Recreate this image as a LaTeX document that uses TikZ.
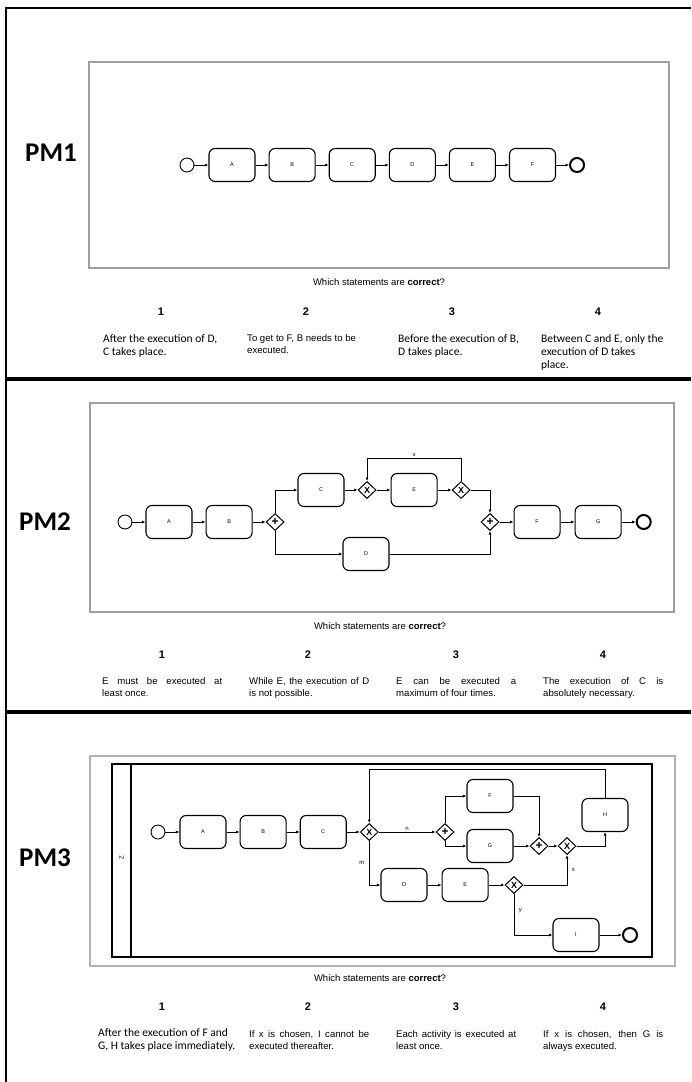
\documentclass[tikz,border=0pt]{standalone}
\usepackage{fontspec}
\setmainfont{Liberation Sans}
\newfontfamily\calibri{Carlito}
\usetikzlibrary{arrows.meta, positioning, shapes.geometric}

\begin{document}
\begin{tikzpicture}[x=1pt, y=-1pt,
  task/.style={draw, rounded corners=6pt, minimum width=46pt, minimum height=33pt, inner sep=1pt, line width=1.1pt, font=\fontsize{5.5}{6}\selectfont},
  startev/.style={draw, circle, minimum size=14pt, inner sep=0pt, line width=0.9pt},
  endev/.style={draw, circle, minimum size=14pt, inner sep=0pt, line width=2pt},
  xorgw/.style={draw, diamond, minimum width=18pt, minimum height=17pt, inner sep=0pt, line width=1pt, font=\fontsize{9}{9}\selectfont\bfseries},
  andgw/.style={xorgw, font=\fontsize{12}{12}\selectfont\bfseries},
  flow/.style={-{Latex[length=3.5pt, width=3pt]}, line width=0.8pt},
  lbl/.style={font=\fontsize{6}{6}\selectfont, inner sep=1.5pt},
  modelbox/.style={draw=gray!75, line width=1.4pt},
  pmlabel/.style={font=\calibri\bfseries\fontsize{27}{27}\selectfont},
  question/.style={font=\fontsize{9.5}{11}\selectfont},
  qnum/.style={font=\bfseries\fontsize{11}{11}\selectfont},
  stmtc/.style={anchor=north west, inner sep=0pt, align=left, font=\calibri\fontsize{11.5}{13}\selectfont},
  stmta/.style={anchor=north west, inner sep=0pt, align=left, font=\fontsize{9.6}{12}\selectfont},
  stmtj/.style={anchor=north west, inner sep=0pt, text width=120pt, align=justify, font=\fontsize{9.6}{12}\selectfont}
]
  \useasboundingbox (0,0) rectangle (691,1082);
  \draw[line width=2pt] (6,1082) -- (6,8) -- (691,8);
  \draw[line width=4pt] (6,379) -- (691,379);
  \draw[line width=4pt] (6,712) -- (691,712);

  % PM1
  \draw[modelbox] (89,62) rectangle (669,268);
  \node[pmlabel] (pm1) at (51,153) {PM1};
  \node[startev] (s1) at (187,165) {};
  \node[task, right=14pt of s1] (A1) {A};
  \node[task, right=13pt of A1] (B1) {B};
  \node[task, right=13pt of B1] (C1) {C};
  \node[task, right=13pt of C1] (D1) {D};
  \node[task, right=13pt of D1] (E1) {E};
  \node[task, right=13pt of E1] (F1) {F};
  \node[endev, right=13pt of F1] (e1) {};
  \draw[flow] (s1) -- (A1);
  \draw[flow] (A1) -- (B1);
  \draw[flow] (B1) -- (C1);
  \draw[flow] (C1) -- (D1);
  \draw[flow] (D1) -- (E1);
  \draw[flow] (E1) -- (F1);
  \draw[flow] (F1) -- (e1);

  \node[question] (q1) at (379,282) {Which statements are \textbf{correct}?};
  \node[qnum] (n11) at (161,312) {1};
  \node[qnum] (n12) at (306,312) {2};
  \node[qnum] (n13) at (452,312) {3};
  \node[qnum] (n14) at (598,312) {4};
  \node[stmtc] (t11) at (103,334) {After the execution of D,\\C takes place.};
  \node[stmta] (t12) at (247,334) {To get to F, B needs to be\\executed.};
  \node[stmtc] (t13) at (398,334) {Before the execution of B,\\D takes place.};
  \node[stmtc] (t14) at (541,334) {Between C and E, only the\\execution of D takes\\place.};

  % PM2
  \draw[modelbox] (90,403) rectangle (674,612);
  \node[pmlabel] (pm2) at (45,522) {PM2};
  \node[startev] (s2) at (125,522) {};
  \node[task, right=13pt of s2] (A2) {A};
  \node[task, right=13pt of A2] (B2) {B};
  \node[andgw, right=13pt of B2] (and2a) {+};
  \node[task] (C2) at (321,490) {C};
  \node[xorgw, right=13pt of C2] (xor2a) {X};
  \node[task, right=14pt of xor2a] (E2) {E};
  \node[xorgw, right=14pt of E2] (xor2b) {X};
  \node[task] (D2) at (366,554) {D};
  \node[andgw] (and2b) at (490,522) {+};
  \node[task, right=14pt of and2b] (F2) {F};
  \node[task, right=14pt of F2] (G2) {G};
  \node[endev, right=14pt of G2] (e2) {};
  \draw[flow] (s2) -- (A2);
  \draw[flow] (A2) -- (B2);
  \draw[flow] (B2) -- (and2a);
  \draw[flow] (and2a.north) |- (C2);
  \draw[flow] (and2a.south) |- (D2);
  \draw[flow] (C2) -- (xor2a);
  \draw[flow] (xor2a) -- (E2);
  \draw[flow] (E2) -- (xor2b);
  \draw[flow] (xor2b.north) -- ++(0,-23) -| (xor2a.north) node[lbl, pos=0.25, above] {x};
  \draw[flow] (xor2b.east) -| (and2b.north);
  \draw[flow] (D2.east) -| (and2b.south);
  \draw[flow] (and2b) -- (F2);
  \draw[flow] (F2) -- (G2);
  \draw[flow] (G2) -- (e2);

  \node[question] (q2) at (380,626) {Which statements are \textbf{correct}?};
  \node[qnum] (n21) at (162,655) {1};
  \node[qnum] (n22) at (308,655) {2};
  \node[qnum] (n23) at (456,655) {3};
  \node[qnum] (n24) at (603,655) {4};
  \node[stmtj] (t21) at (102,677) {E must be executed at\linebreak least once.};
  \node[stmtj] (t22) at (249,677) {While E, the execution of D\linebreak is not possible.};
  \node[stmtj] (t23) at (396,677) {E can be executed a\linebreak maximum of four times.};
  \node[stmtj] (t24) at (543,677) {The execution of C is\linebreak absolutely necessary.};

  % PM3
  \draw[draw=gray!60, line width=1.2pt] (90,756) rectangle (675,966);
  \draw[line width=1.5pt] (112,764) rectangle (652,957);
  \draw[line width=1.5pt] (131,764) -- (131,957);
  \node[lbl, rotate=90] (lane3) at (121.5,858) {Z};
  \node[pmlabel] (pm3) at (45,858) {PM3};
  \node[startev] (s3) at (158,832) {};
  \node[task, right=14pt of s3] (A3) {A};
  \node[task, right=13pt of A3] (B3) {B};
  \node[task, right=13pt of B3] (C3) {C};
  \node[xorgw, right=13pt of C3] (xor3a) {X};
  \node[andgw] (and3a) at (445,832) {+};
  \node[task] (F3) at (490,796) {F};
  \node[task] (G3) at (490,846) {G};
  \node[andgw] (and3b) at (539,846) {+};
  \node[xorgw] (xor3b) at (567,846) {X};
  \node[task] (H3) at (605,815) {H};
  \node[task] (D3) at (404,885) {D};
  \node[task, right=14pt of D3] (E3) {E};
  \node[xorgw] (xor3c) at (514,885) {X};
  \node[task] (I3) at (576,935) {I};
  \node[endev] (e3) at (630,935) {};
  \draw[flow] (s3) -- (A3);
  \draw[flow] (A3) -- (B3);
  \draw[flow] (B3) -- (C3);
  \draw[flow] (C3) -- (xor3a);
  \draw[flow] (xor3a) -- (and3a) node[lbl, midway, above] {n};
  \draw[flow] (and3a.north) |- (F3);
  \draw[flow] (and3a.south) |- (G3);
  \draw[flow] (F3.east) -| (and3b.north);
  \draw[flow] (G3) -- (and3b);
  \draw[flow] (and3b) -- (xor3b);
  \draw[flow] (xor3b.east) -| (H3.south);
  \draw[flow] (H3.north) -- ++(0,-29) -| (xor3a.north);
  \draw[flow] (xor3a.south) |- (D3) node[lbl, pos=0.25, left=3pt] {m};
  \draw[flow] (D3) -- (E3);
  \draw[flow] (E3) -- (xor3c);
  \draw[flow] (xor3c.east) -| (xor3b.south) node[lbl, pos=0.75, right=3pt] {x};
  \draw[flow] (xor3c.south) |- (I3) node[lbl, pos=0.2, right=3pt] {y};
  \draw[flow] (I3) -- (e3);

  \node[question] (q3) at (380,978) {Which statements are \textbf{correct}?};
  \node[qnum] (n31) at (162,1007) {1};
  \node[qnum] (n32) at (308,1007) {2};
  \node[qnum] (n33) at (456,1007) {3};
  \node[qnum] (n34) at (603,1007) {4};
  \node[stmtc] (t31) at (98,1028) {After the execution of F and\\G, H takes place immediately.};
  \node[stmtj] (t32) at (249,1030) {If x is chosen, I cannot be\linebreak executed thereafter.};
  \node[stmtj] (t33) at (396,1030) {Each activity is executed at\linebreak least once.};
  \node[stmtj] (t34) at (543,1030) {If x is chosen, then G is\linebreak always executed.};
\end{tikzpicture}
\end{document}
